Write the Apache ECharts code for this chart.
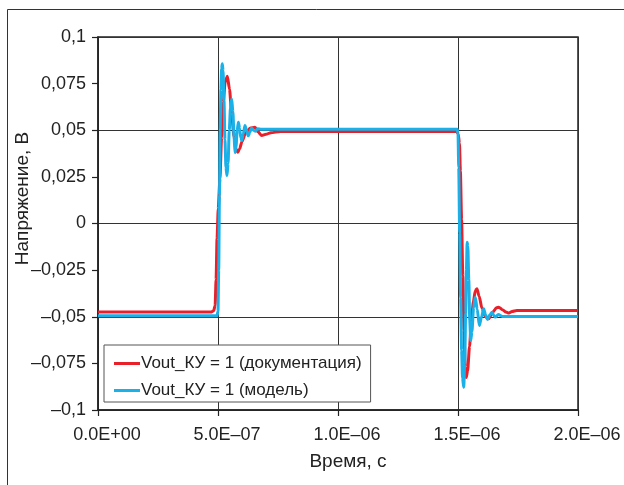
<!DOCTYPE html>
<html>
<head>
<meta charset="utf-8">
<script src="https://cdn.jsdelivr.net/npm/echarts@6/dist/echarts.min.js"></script>
<style>
html,body{margin:0;padding:0;background:#fff;}
#c{width:624px;height:485px;}
</style>
</head>
<body>
<div id="c"></div>
<script>
// Time (s) and voltage (V) for the documentation curve (red)
const timeRed = [0, 0.470e-6, 0.482e-6, 0.488e-6, 0.492e-6, 0.496e-6, 0.501e-6, 0.508e-6, 0.515e-6, 0.522e-6,
  0.530e-6, 0.539e-6, 0.548e-6, 0.557e-6, 0.566e-6, 0.575e-6, 0.582e-6, 0.590e-6, 0.600e-6, 0.615e-6,
  0.635e-6, 0.654e-6, 0.668e-6, 0.682e-6, 0.700e-6, 0.720e-6, 0.760e-6, 1.495e-6, 1.501e-6, 1.506e-6,
  1.510e-6, 1.515e-6, 1.520e-6, 1.525e-6, 1.530e-6, 1.534e-6, 1.540e-6, 1.548e-6, 1.556e-6, 1.564e-6,
  1.572e-6, 1.579e-6, 1.588e-6, 1.600e-6, 1.614e-6, 1.628e-6, 1.645e-6, 1.660e-6, 1.670e-6, 1.685e-6,
  1.700e-6, 1.712e-6, 1.725e-6, 1.745e-6, 2.0e-6];
const voltRed = [-0.0475, -0.0475, -0.0468, -0.044, -0.030, -0.008, 0.008, 0.024, 0.046, 0.065,
  0.076, 0.079, 0.072, 0.059, 0.047, 0.040, 0.0382, 0.040, 0.044, 0.0485,
  0.0512, 0.0516, 0.049, 0.0472, 0.0478, 0.0487, 0.0493, 0.0493, 0.048, 0.043,
  0.028, 0.002, -0.028, -0.057, -0.077, -0.0826, -0.079, -0.066, -0.052, -0.042,
  -0.036, -0.035, -0.039, -0.0455, -0.0500, -0.0511, -0.0475, -0.0452, -0.0449, -0.0462,
  -0.0475, -0.048, -0.0472, -0.0467, -0.0467];

// Time (s) and voltage (V) for the model curve (blue)
const timeBlue = [0, 0.496e-6, 0.500e-6, 0.503e-6, 0.506e-6, 0.509e-6, 0.512e-6, 0.515e-6, 0.518e-6, 0.521e-6,
  0.525e-6, 0.529e-6, 0.533e-6, 0.5375e-6, 0.542e-6, 0.547e-6, 0.552e-6, 0.557e-6, 0.562e-6, 0.567e-6,
  0.571e-6, 0.575e-6, 0.580e-6, 0.585e-6, 0.590e-6, 0.595e-6, 0.599e-6, 0.605e-6, 0.6125e-6, 0.619e-6,
  0.626e-6, 0.633e-6, 0.640e-6, 0.648e-6, 0.656e-6, 0.665e-6, 0.680e-6, 1.497e-6, 1.500e-6, 1.503e-6,
  1.507e-6, 1.511e-6, 1.515e-6, 1.519e-6, 1.524e-6, 1.528e-6, 1.532e-6, 1.535e-6, 1.538e-6, 1.541e-6,
  1.545e-6, 1.549e-6, 1.553e-6, 1.558e-6, 1.565e-6, 1.572e-6, 1.580e-6, 1.589e-6, 1.598e-6, 1.607e-6,
  1.615e-6, 1.623e-6, 1.632e-6, 1.642e-6, 1.650e-6, 1.656e-6, 1.668e-6, 1.685e-6, 2.0e-6];
const voltBlue = [-0.0495, -0.0495, -0.047, -0.025, 0.015, 0.050, 0.072, 0.083, 0.0856, 0.082,
  0.066, 0.045, 0.030, 0.0257, 0.032, 0.050, 0.062, 0.0668, 0.060, 0.046,
  0.038, 0.041, 0.050, 0.0543, 0.051, 0.046, 0.0445, 0.048, 0.0525, 0.050,
  0.047, 0.049, 0.0512, 0.0500, 0.0495, 0.0508, 0.0505, 0.0505, 0.048, 0.030,
  -0.005, -0.040, -0.068, -0.083, -0.0878, -0.075, -0.048, -0.025, -0.010, -0.012,
  -0.030, -0.052, -0.0627, -0.058, -0.045, -0.0395, -0.046, -0.0547, -0.050, -0.0457,
  -0.049, -0.0515, -0.049, -0.0476, -0.0495, -0.0502, -0.0488, -0.0498, -0.0498];

const seriesNames = ['Vout_КУ = 1 (документация)', 'Vout_КУ = 1 (модель)'];
const xTickLabels = ['0.0E+00', '5.0E–07', '1.0E–06', '1.5E–06', '2.0E–06'];
const yTickLabels = ['–0,1', '–0,075', '–0,05', '–0,025', '0', '0,025', '0,05', '0,075', '0,1'];
const xAxisName = 'Время, с';
const yAxisName = 'Напряжение, В';

const zip = (xs, ys) => xs.map((x, i) => [x, ys[i]]);
const FONT = "'Liberation Sans', Arial, sans-serif";
const TXT = '#222';

const chart = echarts.init(document.getElementById('c'), null, {renderer: 'canvas'});
chart.setOption({
  animation: false,
  backgroundColor: '#fff',
  textStyle: {fontFamily: FONT, color: TXT},
  graphic: [{
    type: 'rect', left: 5, top: 7, silent: true, z: -10,
    shape: {x: 0.5, y: 0.5, width: 700, height: 700},
    style: {fill: 'none', stroke: '#333', lineWidth: 1}
  }],
  grid: {left: 98, right: 46, top: 37, bottom: 75, containLabel: false, outerBoundsMode: 'none',
    show: true, borderColor: '#222', borderWidth: 1.5, backgroundColor: 'transparent'},
  xAxis: {
    type: 'value', min: 0, max: 2e-6, interval: 5e-7,
    name: xAxisName, nameLocation: 'middle', nameGap: 42, nameMoveOverlap: false,
    nameTextStyle: {fontSize: 19, color: TXT, fontFamily: FONT, padding: [0, 0, 0, 20]},
    axisLine: {show: true, onZero: false, lineStyle: {color: '#222', width: 1.5}},
    axisTick: {show: true, inside: false, length: 6, lineStyle: {color: '#222', width: 1.2}},
    axisLabel: {margin: 16, fontSize: 18, color: TXT, fontFamily: FONT, padding: [0, 0, 0, 18],
      formatter: (v, i) => xTickLabels[i]},
    splitLine: {show: true, lineStyle: {color: '#333', width: 1}}
  },
  yAxis: [{
    type: 'value', min: -0.1, max: 0.1, interval: 0.025,
    name: yAxisName, nameLocation: 'middle', nameGap: 66, nameMoveOverlap: false,
    nameTextStyle: {fontSize: 19, color: TXT, fontFamily: FONT, padding: [0, 0, 0, 50]},
    axisLine: {show: true, onZero: false, lineStyle: {color: '#222', width: 1.5}},
    axisTick: {show: true, inside: false, length: 6, lineStyle: {color: '#222', width: 1.2}},
    axisLabel: {margin: 12, align: 'right', fontSize: 18, color: TXT, fontFamily: FONT,
      formatter: (v, i) => yTickLabels[i]},
    splitLine: {show: false}
  }, {
    type: 'value', min: -0.1, max: 0.1, interval: 0.05, position: 'left',
    axisLine: {show: false}, axisTick: {show: false}, axisLabel: {show: false},
    splitLine: {show: true, lineStyle: {color: '#333', width: 1}}
  }],
  legend: {
    orient: 'vertical', left: 104, top: 345,
    padding: [10, 9, 3, 10], itemGap: 10, itemWidth: 26, itemHeight: 14,
    icon: 'path://M0,0H26V3H0Z',
    backgroundColor: '#fff', borderColor: '#555', borderWidth: 1,
    textStyle: {fontSize: 17, color: TXT, fontFamily: FONT, padding: [0, 0, 0, -4]},
    data: seriesNames
  },
  series: [{
    name: seriesNames[0], type: 'line', data: zip(timeRed, voltRed),
    showSymbol: false, symbol: 'none', smooth: 0.25, smoothMonotone: 'x',
    lineStyle: {color: '#e8202a', width: 3}, itemStyle: {color: '#e8202a'}, z: 3
  }, {
    name: seriesNames[1], type: 'line', data: zip(timeBlue, voltBlue),
    showSymbol: false, symbol: 'none', smooth: 0.25, smoothMonotone: 'x',
    lineStyle: {color: '#1ab0e8', width: 3}, itemStyle: {color: '#1ab0e8'}, z: 4
  }]
});
</script>
</body>
</html>
